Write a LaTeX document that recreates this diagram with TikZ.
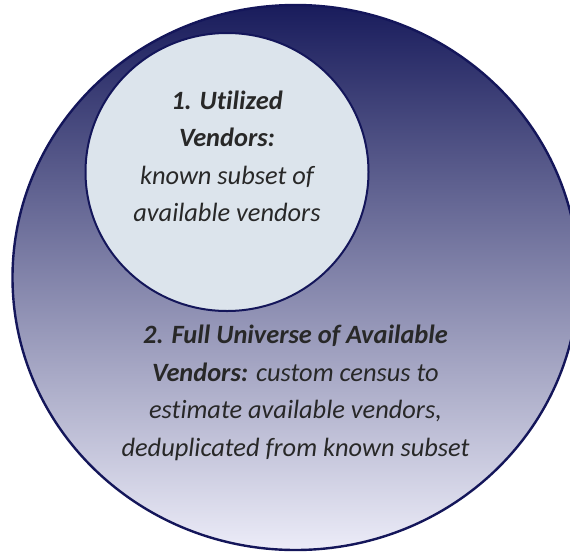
\documentclass[tikz,border=0pt]{standalone}
\usepackage{fontspec}
\setmainfont{Carlito}[Ligatures=NoCommon]
\usepackage{tikz}
\usetikzlibrary{shapes.geometric, positioning}
\definecolor{navyline}{RGB}{20, 22, 90}
\definecolor{navytop}{RGB}{25, 28, 92}
\definecolor{navymid}{RGB}{172, 172, 194}
\definecolor{lavbottom}{RGB}{236, 236, 248}
\definecolor{subsetfill}{RGB}{220, 228, 236}
\definecolor{textgray}{RGB}{40, 40, 40}

\begin{document}
\begin{tikzpicture}[
  x=1pt,
  y=-1pt,
  every node/.style={inner sep=0pt},
  setbox/.style={draw=navyline, ellipse},
  settext/.style={align=center, text=textgray, font=\itshape\fontsize{26.4}{37.5}\selectfont}
]

\useasboundingbox (0,0) rectangle (570,552);

% outer set, shaded from navy down to pale lavender
\node[setbox, line width=2.4pt, minimum width=566, minimum height=545,
      top color=navytop, middle color=navymid, bottom color=lavbottom]
      (universe) at (295.5, 277.5) {};

% inner set
\node[setbox, line width=2pt, fill=subsetfill,
      minimum width=283, minimum height=278]
      (utilized) at (227, 172) {};

\node[settext] (utiltext) at (227, 156.5) {%
  \textbf{1. Utilized}\\
  \textbf{Vendors:}\\
  known subset of\\
  available vendors
};

\node[settext] (univtext) at (295.5, 393) {%
  \textbf{2. Full Universe of Available}\\
  \textbf{Vendors:} custom census to\\
  estimate available vendors,\\
  deduplicated from known subset
};

\end{tikzpicture}
\end{document}
